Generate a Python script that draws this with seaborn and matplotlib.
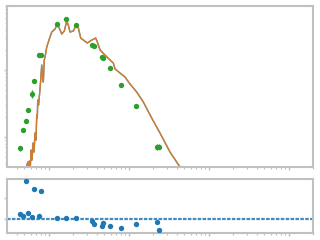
import numpy as np
import pandas as pd
import seaborn as sns
import matplotlib
matplotlib.use("Agg")
import matplotlib.pyplot as plt
from matplotlib.ticker import LogLocator, NullFormatter, FixedLocator

# ---------------- data ----------------
obs_x = [0.0444, 0.0484, 0.0528, 0.0559, 0.0627, 0.0665, 0.0767, 0.0799,
         0.1288, 0.167, 0.2226, 0.3467, 0.367, 0.462, 0.476, 0.592,
         0.813, 1.252, 2.29, 2.43]
obs_y = [0.0678, 0.126, 0.176, 0.253, 0.438, 0.685, 1.675, 1.675,
         4.86, 5.77, 4.69, 2.34, 2.26, 1.55, 1.50, 1.06,
         0.59, 0.287, 0.0717, 0.0717]
obs_err = [0.006, 0.008, 0.012, 0.015, 0.06, 0.05, 0.1, 0.1,
           0.25, 0.3, 0.25, 0.12, 0.12, 0.08, 0.08, 0.05,
           0.03, 0.015, 0.008, 0.006]
resid = [0.20, 0.11, 1.81, 0.27, 0.06, 1.42, 0.11, 1.33,
         0.01, 0.01, 0.01, -0.14, -0.28, -0.38, -0.23, -0.38,
         -0.48, -0.28, -0.19, -0.58]

model_x = [0.0501, 0.0534, 0.0550, 0.0562, 0.0575, 0.0592, 0.0608, 0.0622,
           0.0640, 0.0659, 0.0678, 0.0698, 0.0712, 0.0724, 0.0733, 0.0750,
           0.0767, 0.0799, 0.0822, 0.0841, 0.0861, 0.0884, 0.0904, 0.0950,
           0.1023, 0.1096, 0.1206, 0.1288, 0.1393, 0.1462, 0.1576, 0.1689,
           0.1768, 0.1857, 0.2042, 0.2208, 0.2357, 0.2526, 0.2723, 0.3055,
           0.3467, 0.3890, 0.4074, 0.4406, 0.5087, 0.5874, 0.6457, 0.6780,
           0.7834, 0.9036, 1.0439, 1.266, 1.531, 1.950, 2.475, 3.301, 4.663]
model_y = [0.0345, 0.0369, 0.0423, 0.0369, 0.0438, 0.0369, 0.0640, 0.0454,
           0.0814, 0.0597, 0.1148, 0.0902, 0.213, 0.192, 0.357, 0.300,
           0.395, 0.709, 1.188, 0.842, 0.662, 1.41, 1.56, 2.20,
           2.90, 3.69, 4.09, 4.86, 3.95, 3.45, 3.82, 5.39,
           4.69, 3.69, 3.82, 4.69, 4.24, 3.00, 2.80, 2.53,
           2.80, 3.00, 2.62, 1.99, 1.67, 1.41, 1.27, 1.035,
           0.902, 0.786, 0.618, 0.470, 0.333, 0.192, 0.1148, 0.0597, 0.0322]

obs = pd.DataFrame({"x": obs_x, "y": obs_y, "err": obs_err, "resid": resid})
model = pd.DataFrame({"x": model_x, "y": model_y})

# ---------------- style ----------------
sns.set_theme(style="white", palette="tab10")
spine_col = "#c0c0c0"
blue, orange, green = "#1f77b4", "#ff7f0e", "#2ca02c"

fig = plt.figure(figsize=(3.2, 2.4), dpi=100)
ax1 = fig.add_axes([0.022, 0.304, 0.956, 0.671])
ax2 = fig.add_axes([0.022, 0.029, 0.956, 0.225], sharex=ax1)

for ax in (ax1, ax2):
    ax.set_xscale("log")
ax1.set_yscale("log")

# model lines
sns.lineplot(data=model, x="x", y="y", ax=ax1, color=blue, lw=1.0,
             sort=False, estimator=None)
sns.lineplot(data=model, x="x", y="y", ax=ax1, color=orange, lw=1.0,
             alpha=0.8, sort=False, estimator=None)

# observations
ax1.errorbar(obs["x"], obs["y"], yerr=obs["err"], fmt="none",
             ecolor=green, elinewidth=1, capsize=0)
sns.scatterplot(data=obs, x="x", y="y", ax=ax1, color=green, s=15,
                linewidth=0, zorder=5)

# residuals
ax2.axhline(0, color=blue, lw=1.6, ls=(0, (1.6, 0.6)), alpha=0.85)
sns.scatterplot(data=obs, x="x", y="resid", ax=ax2, color=blue, s=15,
                linewidth=0, zorder=5)

ax1.set_xlim(0.0303, 202)
ax1.set_ylim(0.0357, 9.02)
ax2.set_ylim(-0.71, 1.93)

for ax in (ax1, ax2):
    ax.xaxis.set_major_locator(LogLocator(base=10))
    ax.xaxis.set_minor_locator(LogLocator(base=10, subs=np.arange(2, 10)))
    ax.xaxis.set_minor_formatter(NullFormatter())
    ax.set_xlabel("")
    ax.set_ylabel("")
    ax.tick_params(axis="both", which="both", labelbottom=False,
                   labelleft=False, color=spine_col, direction="out",
                   bottom=True, left=True)
    ax.tick_params(which="major", length=2.5, width=1)
    ax.tick_params(which="minor", length=1.5, width=0.8)
    for s in ax.spines.values():
        s.set_color(spine_col)
        s.set_linewidth(1.5)
        s.set_visible(True)

ax1.yaxis.set_major_locator(LogLocator(base=10))
ax1.yaxis.set_minor_locator(LogLocator(base=10, subs=np.arange(2, 10)))
ax1.yaxis.set_minor_formatter(NullFormatter())
ax2.yaxis.set_major_locator(FixedLocator([0, 1]))

fig.savefig("out.png", dpi=100)
